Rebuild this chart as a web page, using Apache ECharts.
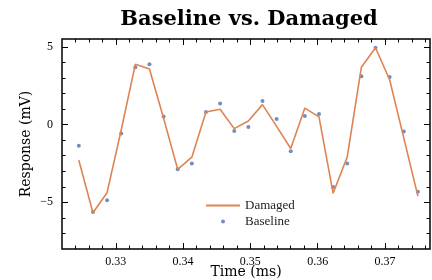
<!DOCTYPE html>
<html>
<head>
<meta charset="utf-8">
<script src="https://cdn.jsdelivr.net/npm/echarts@6/dist/echarts.min.js"></script>
<style>
  html, body { margin: 0; padding: 0; background: #fff; }
  #chart { width: 432px; height: 280px; }
</style>
</head>
<body>
<div id="chart"></div>
<script>
// time samples (ms)
const times = [0.3245, 0.3266, 0.3287, 0.3308, 0.3329, 0.3350, 0.3371, 0.3392, 0.3413,
  0.3434, 0.3455, 0.3476, 0.3497, 0.3518, 0.3539, 0.3560, 0.3581, 0.3602, 0.3623,
  0.3644, 0.3665, 0.3686, 0.3707, 0.3728, 0.3749];
// response (mV)
const damaged = [-2.29, -5.67, -4.38, -0.35, 3.87, 3.57, 0.4, -2.88, -2.1, 0.81, 0.98, -0.26,
  0.23, 1.28, -0.12, -1.54, 1.06, 0.49, -4.42, -2.08, 3.69, 4.94, 2.88, -0.86, -4.6];
const baseline = [-1.37, -5.62, -4.87, -0.58, 3.69, 3.88, 0.51, -2.88, -2.5, 0.81, 1.35, -0.41,
  -0.15, 1.51, 0.36, -1.71, 0.55, 0.68, -4.02, -2.5, 3.10, 4.94, 3.05, -0.45, -4.32];

// tick positions
const xMajor = [0.33, 0.34, 0.35, 0.36, 0.37];
const xMinor = [0.324, 0.326, 0.328, 0.332, 0.334, 0.336, 0.338, 0.342, 0.344, 0.346, 0.348,
  0.352, 0.354, 0.356, 0.358, 0.362, 0.364, 0.366, 0.368, 0.372, 0.374, 0.376];
const yMajor = [-5, 0, 5];
const yMinor = [-7, -6, -4, -3, -2, -1, 1, 2, 3, 4];

const serif = '"Liberation Serif", serif';
const xMin = 0.322, xMax = 0.3767;
const yMin = -8, yMax = 5.5;

function xAx(pos, ticks, len, labels) {
  return {
    type: 'value', position: pos, min: xMin, max: xMax,
    axisLine: { show: false, onZero: false },
    splitLine: { show: false },
    axisTick: { customValues: ticks, inside: true, length: len, lineStyle: { color: '#000', width: 1 } },
    axisLabel: labels ? {
      customValues: ticks, margin: 7, color: '#000', fontFamily: serif, fontSize: 12,
      formatter: v => v.toFixed(2)
    } : { show: false },
    name: labels ? 'Time (ms)' : '',
    nameLocation: 'middle', nameGap: 16, nameMoveOverlap: false,
    nameTextStyle: { color: '#000', fontFamily: '"DejaVu Serif", serif', fontSize: 14 }
  };
}
function yAx(pos, ticks, len, labels) {
  return {
    type: 'value', position: pos, min: yMin, max: yMax,
    axisLine: { show: false, onZero: false },
    splitLine: { show: false },
    axisTick: { customValues: ticks, inside: true, length: len, lineStyle: { color: '#000', width: 1 } },
    axisLabel: labels ? {
      customValues: ticks, margin: 9, color: '#000', fontFamily: serif, fontSize: 12,
      formatter: v => (v < 0 ? '\u2212' + (-v) : String(v))
    } : { show: false },
    name: labels ? 'Response (mV)' : '',
    nameLocation: 'middle', nameGap: 29, nameMoveOverlap: false,
    nameTextStyle: { color: '#000', fontFamily: '"DejaVu Serif", serif', fontSize: 14 }
  };
}

const chart = echarts.init(document.getElementById('chart'));
chart.setOption({
  animation: false,
  title: {
    text: 'Baseline vs. Damaged',
    left: 244, top: 4, textAlign: 'center',
    textStyle: { color: '#000', fontFamily: '"DejaVu Serif", serif', fontWeight: 'bold', fontSize: 21 }
  },
  grid: {
    left: 62, right: 2, top: 39, bottom: 31, outerBoundsMode: 'none',
    show: true, borderColor: '#000', borderWidth: 1.5, backgroundColor: 'transparent'
  },
  legend: {
    orient: 'vertical', left: 200, top: 194,
    itemWidth: 34, itemHeight: 4, itemGap: 3,
    textStyle: { color: '#222', fontFamily: serif, fontSize: 13 },
    data: [
      { name: 'Damaged', itemStyle: { opacity: 0 } },
      { name: 'Baseline' }
    ]
  },
  xAxis: [
    xAx('bottom', xMajor, 6, true),
    xAx('bottom', xMinor, 3.5, false),
    xAx('top', xMajor, 6, false),
    xAx('top', xMinor, 3.5, false)
  ],
  yAxis: [
    yAx('left', yMajor, 6, true),
    yAx('left', yMinor, 3.5, false),
    yAx('right', yMajor, 6, false),
    yAx('right', yMinor, 3.5, false)
  ],
  series: [
    {
      name: 'Damaged', type: 'line', xAxisIndex: 0, yAxisIndex: 0,
      data: times.map((t, i) => [t, damaged[i]]),
      showSymbol: false, symbol: 'none',
      lineStyle: { color: '#DD8452', width: 1.6 },
      itemStyle: { color: '#DD8452' }
    },
    {
      name: 'Baseline', type: 'scatter', xAxisIndex: 0, yAxisIndex: 0,
      data: times.map((t, i) => [t, baseline[i]]),
      symbol: 'circle', symbolSize: 4,
      itemStyle: { color: '#4C72B0' }
    }
  ]
});
</script>
</body>
</html>
